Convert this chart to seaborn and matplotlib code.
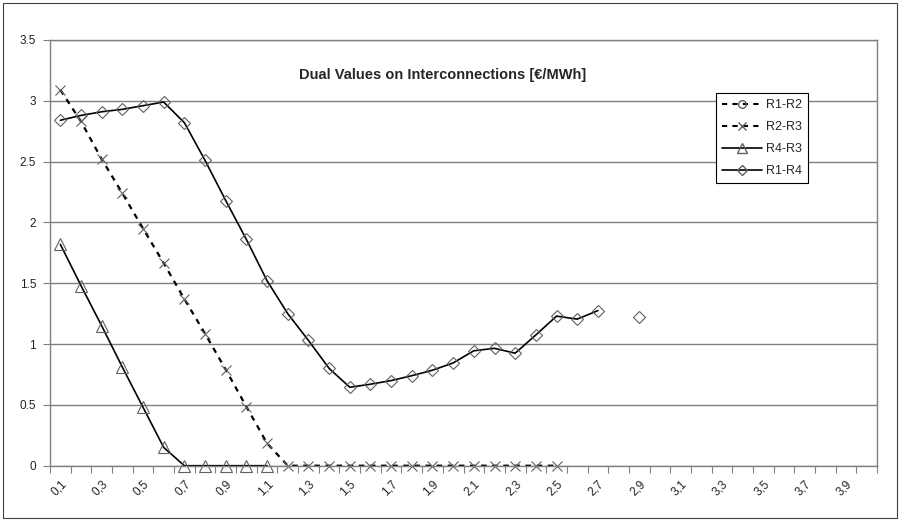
import numpy as np
import pandas as pd
import seaborn as sns
import matplotlib.pyplot as plt
from matplotlib.lines import Line2D
from matplotlib.patches import Rectangle

# category axis (Excel style), one category per 0.1 step
categories = ["0,1", "0,2", "0,3", "0,4", "0,5", "0,6", "0,7", "0,8", "0,9", "1,0",
              "1,1", "1,2", "1,3", "1,4", "1,5", "1,6", "1,7", "1,8", "1,9", "2,0",
              "2,1", "2,2", "2,3", "2,4", "2,5", "2,6", "2,7", "2,8", "2,9", "3,0",
              "3,1", "3,2", "3,3", "3,4", "3,5", "3,6", "3,7", "3,8", "3,9", "4,0"]

r1_r2 = []  # no visible points in the chart, legend entry only
r2_r3 = [3.09, 2.83, 2.52, 2.24, 1.95, 1.665, 1.37, 1.085, 0.79, 0.485,
         0.184, 0, 0, 0, 0, 0, 0, 0, 0, 0, 0, 0, 0, 0, 0]
r4_r3 = [1.82, 1.48, 1.15, 0.81, 0.48, 0.15, 0, 0, 0, 0, 0]
r1_r4 = [2.84, 2.88, 2.91, 2.93, 2.96, 2.99, 2.82, 2.51, 2.18, 1.86,
         1.52, 1.25, 1.03, 0.80, 0.645, 0.67, 0.70, 0.74, 0.785, 0.845,
         0.945, 0.965, 0.925, 1.075, 1.23, 1.205, 1.275, np.nan, 1.22]

y_ticks = [0, 0.5, 1, 1.5, 2, 2.5, 3, 3.5]

sns.set_style('white')
plt.rcParams['font.family'] = ['Liberation Sans', 'DejaVu Sans']

fig = plt.figure(figsize=(9.01, 5.21), dpi=100)
ax = fig.add_axes([50 / 901, 1 - 465.7 / 521, 827 / 901, 425.7 / 521])

GREY = '#808080'
MEC = '#606060'
DASH = (0, (2.5, 2.5))


def segments(vals):
    v = np.asarray(vals, dtype=float)
    x = np.arange(len(v))
    seg = np.cumsum(np.isnan(v))
    m = ~np.isnan(v)
    return pd.DataFrame({'x': x[m], 'y': v[m], 'seg': seg[m]})


common = dict(estimator=None, color='black', markerfacecolor='none',
              markeredgecolor=MEC, markeredgewidth=0.8, legend=False,
              clip_on=False, ax=ax)

d = segments(r4_r3)
sns.lineplot(data=d, x='x', y='y', units='seg', marker='^', markersize=8,
             linewidth=1.2, **common)
d = segments(r2_r3)
sns.lineplot(data=d, x='x', y='y', units='seg', marker='x', markersize=7,
             linewidth=1.6, **common)
ax.lines[-1].set_linestyle(DASH)
d = segments(r1_r4)
sns.lineplot(data=d, x='x', y='y', units='seg', marker='D', markersize=6.5,
             linewidth=1.2, **common)

ax.set_xlim(-0.5, len(categories) - 0.5)
ax.set_ylim(0, 3.5)
ax.set_xlabel('')
ax.set_ylabel('')

ax.set_yticks(y_ticks)
ax.set_yticklabels([f"{v:g}" for v in y_ticks])
ax.set_xticks(np.arange(0, len(categories), 2))
ax.set_xticklabels(categories[::2], rotation=45, ha='right',
                   rotation_mode='anchor')
ax.set_xticks(np.arange(-0.5, len(categories)), minor=True)
ax.tick_params(axis='x', which='major', length=0, pad=9, labelsize=8.5,
               colors='#222222')
ax.tick_params(axis='x', which='minor', length=5, width=0.8, color=GREY,
               direction='out', bottom=True)
ax.tick_params(axis='y', length=5, width=0.8, color=GREY, direction='out',
               left=True, pad=5, labelsize=8.5, labelcolor='#222222')

ax.grid(axis='y', color=GREY, linewidth=1.0)
ax.set_axisbelow(True)
for s in ax.spines.values():
    s.set_color(GREY)
    s.set_linewidth(1.0)

ax.text(0.475, 0.918, 'Dual Values on Interconnections [€/MWh]',
        transform=ax.transAxes, ha='center', va='center',
        fontsize=10.5, fontweight='bold')

handles = [
    Line2D([], [], color='black', linestyle=DASH, linewidth=1.5,
           marker='o', markersize=5.5, markerfacecolor='none', markeredgecolor=MEC),
    Line2D([], [], color='black', linestyle=DASH, linewidth=1.5,
           marker='x', markersize=5.5, markeredgecolor=MEC),
    Line2D([], [], color='black', linewidth=1.2,
           marker='^', markersize=6.5, markerfacecolor='none', markeredgecolor=MEC),
    Line2D([], [], color='black', linewidth=1.2,
           marker='D', markersize=5.5, markerfacecolor='none', markeredgecolor=MEC),
]
leg = ax.legend(handles, ['R1-R2', 'R2-R3', 'R4-R3', 'R1-R4'],
                loc='upper left', bbox_to_anchor=(0.805, 0.876),
                borderaxespad=0, frameon=True, fancybox=False, framealpha=1,
                fontsize=9, handlelength=3.2, handletextpad=0.3,
                labelspacing=0.8, borderpad=0.5)
leg.get_frame().set_edgecolor('black')
leg.get_frame().set_linewidth(0.8)

fig.patches.append(Rectangle((3 / 901, 3 / 521), 894 / 901, 515 / 521,
                             transform=fig.transFigure, fill=False,
                             edgecolor='#404040', linewidth=0.8))

fig.savefig('out.png', dpi=100)
